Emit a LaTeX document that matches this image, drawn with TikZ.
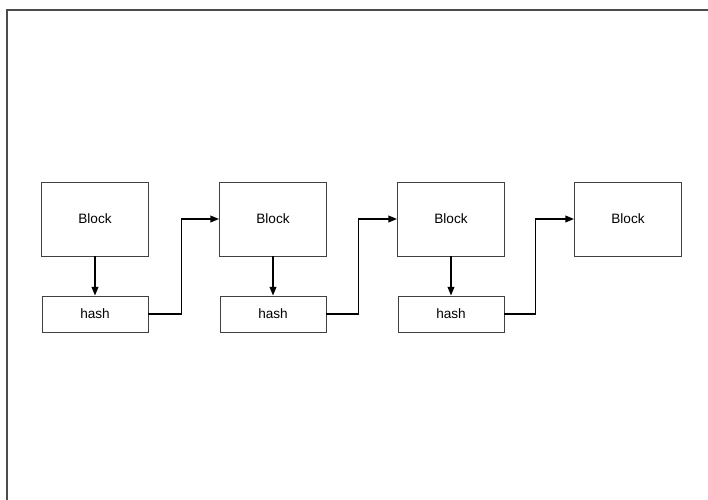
\documentclass[tikz,border=0pt]{standalone}
\usepackage{fontspec}
\setmainfont{Liberation Sans}
\usetikzlibrary{arrows.meta}
\begin{document}
\begin{tikzpicture}[x=0.75pt,y=-0.75pt,
  blockbox/.style={draw=black!75,line width=0.65pt,fill=white,
    minimum width=80.25pt,minimum height=55.5pt,inner sep=0pt,
    font=\fontsize{10.2}{12}\selectfont},
  hashbox/.style={draw=black!75,line width=0.65pt,fill=white,
    minimum width=79.5pt,minimum height=27pt,inner sep=0pt,
    font=\fontsize{10.2}{12}\selectfont},
  link/.style={draw=black,line width=1.1pt,
    -{Stealth[length=6.5pt,width=5pt,inset=0pt]}}]
\useasboundingbox (0,0) rectangle (708,500);
% outer frame (only top and left edges fall inside the page)
\draw[black!70,line width=1.3pt] (7,500) -- (7,10) -- (708,10);
% blocks and their hashes
\foreach \i/\cx in {1/95,2/273,3/451}{
  \node[blockbox] (b\i) at (\cx,219) {Block};
  \node[hashbox]  (h\i) at (\cx,314) {hash};
}
\node[blockbox] (b4) at (628,219) {Block};
% block -> its hash
\foreach \i in {1,2,3}{
  \draw[link] (b\i.south) -- (h\i.north);
}
% hash -> next block
\draw[link] (h1.east) -- ++(33,0) |- (b2.west);
\draw[link] (h2.east) -- ++(32,0) |- (b3.west);
\draw[link] (h3.east) -- ++(31,0) |- (b4.west);
\end{tikzpicture}
\end{document}
